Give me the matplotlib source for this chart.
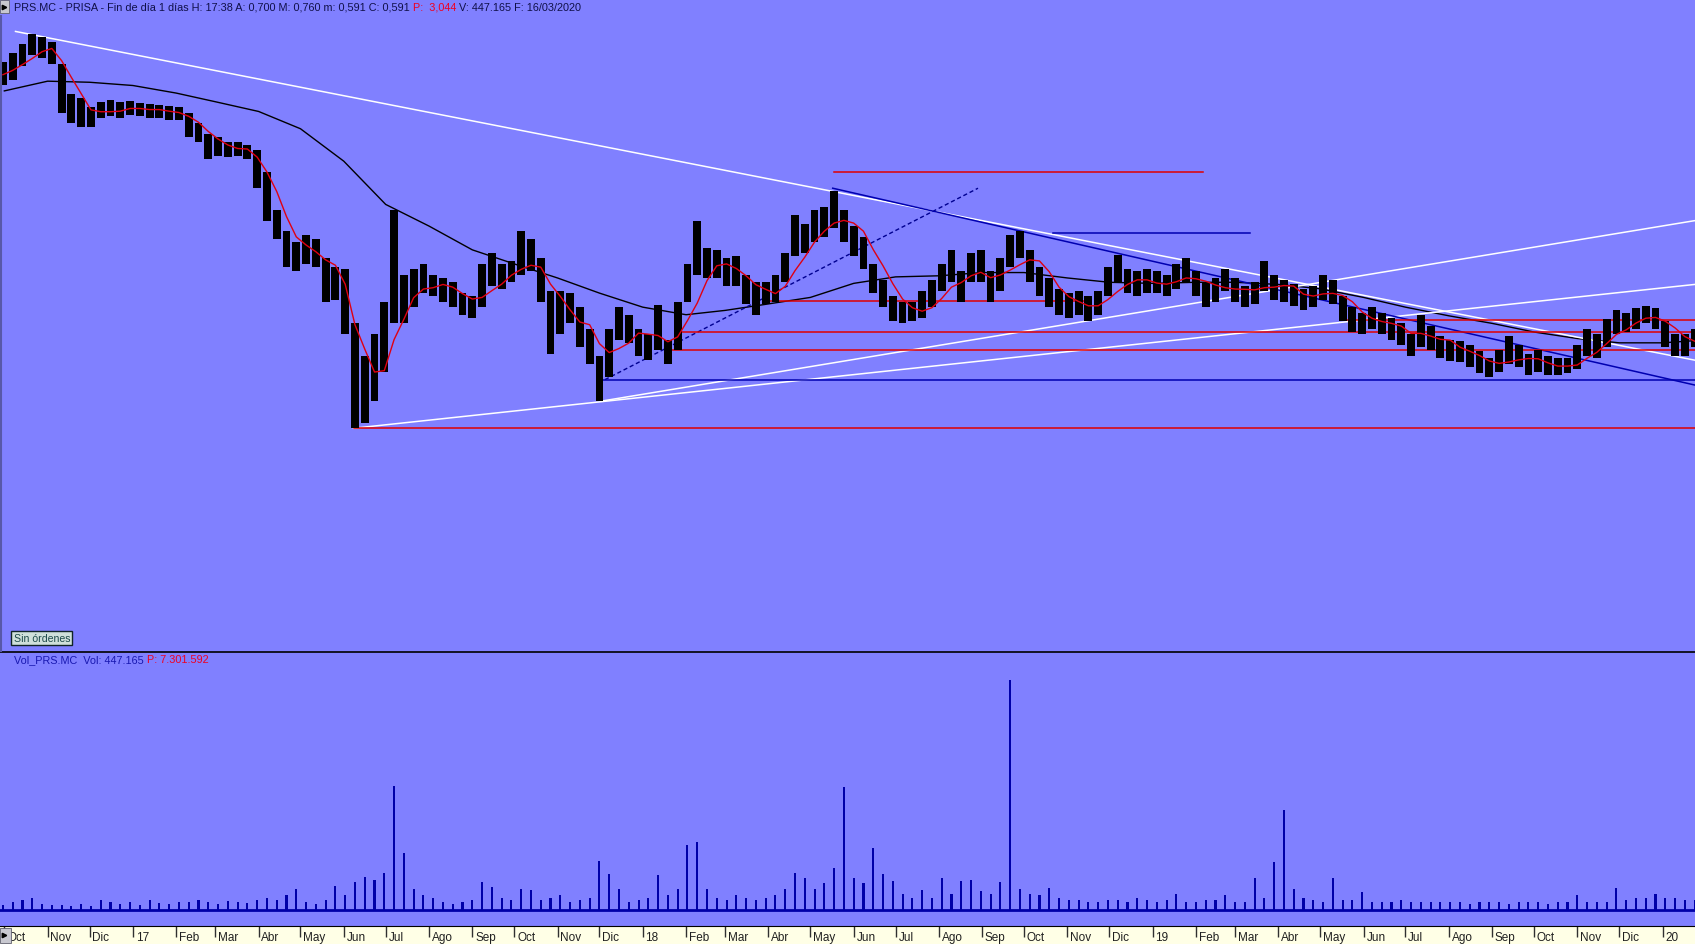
import matplotlib
matplotlib.use('Agg')
import matplotlib.pyplot as plt
import matplotlib.dates as mdates
from matplotlib.patches import Rectangle
from matplotlib.lines import Line2D
import pandas as pd
import numpy as np
from datetime import datetime

plt.rcParams['font.family'] = ['Liberation Sans', 'DejaVu Sans']

# ---------------- data (weekly) ----------------
week_start = '2016-09-30'
price_close = [5.33, 5.41, 5.53, 5.65, 5.58, 5.53, 5.08, 5.03, 4.98, 4.93,
               5.01, 5.03, 5.00, 5.03, 5.01, 4.99, 5.00, 4.97, 4.96, 4.85,
               4.78, 4.63, 4.68, 4.63, 4.65, 4.61, 4.38, 4.08, 3.93, 3.68,
               3.63, 3.78, 3.68, 3.38, 3.43, 3.08, 2.18, 2.48, 2.58, 3.13,
               3.33, 3.23, 3.38, 3.45, 3.38, 3.35, 3.28, 3.21, 3.18, 3.41,
               3.53, 3.45, 3.51, 3.63, 3.68, 3.38, 2.88, 3.18, 3.18, 2.93,
               2.78, 2.48, 2.85, 3.08, 2.98, 2.85, 2.81, 3.03, 2.75, 3.03,
               3.41, 3.68, 3.58, 3.58, 3.48, 3.51, 3.31, 3.25, 3.31, 3.35,
               3.58, 3.83, 3.81, 3.91, 3.98, 4.13, 3.91, 3.81, 3.68, 3.45,
               3.31, 3.15, 3.11, 3.13, 3.18, 3.28, 3.45, 3.55, 3.35, 3.53,
               3.58, 3.35, 3.45, 3.71, 3.78, 3.53, 3.41, 3.31, 3.21, 3.18,
               3.23, 3.15, 3.21, 3.41, 3.53, 3.41, 3.38, 3.41, 3.41, 3.37,
               3.47, 3.55, 3.38, 3.28, 3.33, 3.45, 3.33, 3.27, 3.31, 3.53,
               3.35, 3.33, 3.29, 3.23, 3.28, 3.41, 3.31, 3.15, 3.05, 3.03,
               3.08, 3.03, 2.98, 2.93, 2.81, 3.03, 2.88, 2.81, 2.78, 2.77,
               2.73, 2.65, 2.58, 2.68, 2.78, 2.73, 2.63, 2.67, 2.63, 2.61,
               2.63, 2.71, 2.88, 2.83, 2.95, 3.05, 3.05, 3.08, 3.13, 3.08,
               2.91, 2.83, 2.81, 2.91]
price_high = [5.45, 5.53, 5.61, 5.71, 5.68, 5.63, 5.43, 5.15, 5.11, 5.03,
              5.08, 5.10, 5.08, 5.09, 5.07, 5.06, 5.05, 5.04, 5.03, 4.98,
              4.88, 4.78, 4.75, 4.71, 4.71, 4.68, 4.63, 4.43, 4.08, 3.88,
              3.78, 3.85, 3.81, 3.63, 3.55, 3.53, 3.03, 2.73, 2.93, 3.23,
              4.08, 3.48, 3.53, 3.58, 3.48, 3.45, 3.41, 3.31, 3.28, 3.58,
              3.68, 3.58, 3.61, 3.88, 3.81, 3.63, 3.33, 3.33, 3.31, 3.18,
              2.98, 2.73, 2.98, 3.18, 3.11, 2.98, 2.93, 3.20, 2.88, 3.23,
              3.58, 3.98, 3.73, 3.71, 3.63, 3.65, 3.48, 3.41, 3.41, 3.48,
              3.68, 4.03, 3.95, 4.08, 4.11, 4.25, 4.08, 3.93, 3.83, 3.58,
              3.43, 3.28, 3.23, 3.23, 3.33, 3.43, 3.58, 3.71, 3.51, 3.68,
              3.71, 3.51, 3.63, 3.85, 3.88, 3.71, 3.55, 3.45, 3.35, 3.31,
              3.33, 3.28, 3.33, 3.55, 3.66, 3.53, 3.51, 3.53, 3.51, 3.48,
              3.58, 3.63, 3.51, 3.41, 3.45, 3.53, 3.45, 3.38, 3.41, 3.61,
              3.48, 3.43, 3.39, 3.35, 3.38, 3.48, 3.43, 3.28, 3.18, 3.13,
              3.18, 3.13, 3.08, 3.03, 2.93, 3.11, 3.01, 2.91, 2.88, 2.87,
              2.83, 2.77, 2.71, 2.78, 2.91, 2.83, 2.75, 2.78, 2.73, 2.71,
              2.71, 2.83, 2.98, 2.93, 3.07, 3.15, 3.13, 3.17, 3.19, 3.17,
              3.05, 2.93, 2.93, 2.98]
price_low = [5.23, 5.28, 5.41, 5.51, 5.48, 5.43, 4.98, 4.88, 4.85, 4.85,
             4.93, 4.95, 4.93, 4.96, 4.95, 4.93, 4.93, 4.91, 4.91, 4.75,
             4.71, 4.55, 4.58, 4.57, 4.58, 4.55, 4.28, 3.98, 3.81, 3.55,
             3.51, 3.58, 3.55, 3.23, 3.25, 2.93, 2.06, 2.11, 2.31, 2.58,
             3.03, 3.03, 3.18, 3.31, 3.28, 3.23, 3.18, 3.11, 3.08, 3.18,
             3.38, 3.35, 3.41, 3.48, 3.51, 3.23, 2.75, 2.93, 3.03, 2.81,
             2.65, 2.31, 2.53, 2.88, 2.85, 2.73, 2.69, 2.78, 2.65, 2.78,
             3.23, 3.48, 3.45, 3.45, 3.38, 3.38, 3.21, 3.11, 3.21, 3.23,
             3.41, 3.65, 3.68, 3.78, 3.83, 3.91, 3.78, 3.65, 3.53, 3.31,
             3.18, 3.05, 3.03, 3.05, 3.08, 3.18, 3.33, 3.41, 3.23, 3.41,
             3.41, 3.23, 3.33, 3.55, 3.63, 3.41, 3.28, 3.18, 3.11, 3.08,
             3.11, 3.05, 3.11, 3.28, 3.41, 3.31, 3.28, 3.31, 3.31, 3.28,
             3.35, 3.41, 3.28, 3.18, 3.23, 3.33, 3.23, 3.18, 3.21, 3.33,
             3.25, 3.23, 3.19, 3.15, 3.18, 3.25, 3.21, 3.05, 2.95, 2.93,
             2.98, 2.93, 2.88, 2.83, 2.73, 2.81, 2.78, 2.71, 2.68, 2.67,
             2.63, 2.57, 2.53, 2.58, 2.65, 2.63, 2.55, 2.58, 2.55, 2.55,
             2.57, 2.61, 2.73, 2.71, 2.81, 2.93, 2.95, 2.98, 3.03, 2.98,
             2.81, 2.73, 2.73, 2.81]
volume_m = [0.5, 0.8, 1.0, 1.2, 0.6, 0.5, 0.5, 0.4, 0.6, 0.4,
            1.0, 0.8, 0.6, 0.8, 0.5, 1.0, 0.7, 0.6, 0.8, 0.8,
            1.0, 0.8, 0.6, 0.9, 0.8, 0.7, 1.0, 1.2, 1.0, 1.4,
            2.0, 0.8, 0.6, 1.0, 2.3, 1.4, 2.6, 3.1, 2.8, 3.5,
            11.5, 5.3, 2.0, 1.4, 1.2, 0.8, 0.6, 0.8, 1.0, 2.6,
            2.2, 1.2, 1.0, 2.0, 1.9, 1.0, 1.2, 1.4, 0.8, 1.0,
            1.2, 4.6, 3.4, 2.0, 0.8, 1.0, 1.2, 3.3, 1.4, 2.0,
            6.1, 6.3, 2.0, 1.2, 1.0, 1.4, 1.2, 1.0, 1.2, 1.4,
            2.0, 3.5, 3.0, 2.0, 2.5, 3.9, 11.4, 3.0, 2.5, 5.8,
            3.4, 2.7, 1.5, 1.2, 1.9, 1.2, 3.0, 1.5, 2.7, 2.8,
            1.8, 1.5, 2.6, 21.3, 2.0, 1.5, 1.4, 2.1, 1.2, 1.0,
            1.0, 0.8, 0.8, 1.0, 1.0, 0.8, 1.2, 1.0, 0.8, 1.0,
            1.5, 0.8, 0.8, 1.0, 1.0, 1.4, 0.8, 0.8, 3.0, 1.2,
            4.5, 9.3, 2.0, 1.2, 1.0, 0.8, 3.0, 1.0, 1.0, 1.7,
            0.8, 0.8, 0.8, 1.0, 0.8, 0.8, 0.8, 0.8, 0.8, 0.8,
            0.6, 0.8, 0.8, 0.8, 0.6, 0.8, 0.8, 0.8, 0.6, 0.8,
            0.8, 1.4, 0.8, 0.8, 0.8, 2.1, 1.0, 1.2, 1.2, 1.5,
            1.2, 1.2, 1.0, 1.0]

# long moving average (black), read at month starts
ma_long_dates = ['2016-10-01', '2016-11-01', '2016-12-01',
                 '2017-01-01', '2017-02-01', '2017-03-01', '2017-04-01', '2017-05-01', '2017-06-01',
                 '2017-07-01', '2017-08-01', '2017-09-01', '2017-10-01', '2017-11-01', '2017-12-01',
                 '2018-01-01', '2018-02-01', '2018-03-01', '2018-04-01', '2018-05-01', '2018-06-01',
                 '2018-07-01', '2018-08-01', '2018-09-01', '2018-10-01', '2018-11-01', '2018-12-01',
                 '2019-01-01', '2019-02-01', '2019-03-01', '2019-04-01', '2019-05-01', '2019-06-01',
                 '2019-07-01', '2019-08-01', '2019-09-01', '2019-10-01', '2019-11-01', '2019-12-01',
                 '2020-01-01', '2020-01-24']
ma_long = [5.18, 5.27, 5.26, 5.23, 5.16, 5.08, 4.99, 4.83, 4.53, 4.13,
           3.93, 3.71, 3.58, 3.45, 3.31, 3.18, 3.11, 3.15, 3.21, 3.27,
           3.40, 3.46, 3.47, 3.50, 3.50, 3.45, 3.41, 3.40, 3.41, 3.41,
           3.39, 3.35, 3.27, 3.18, 3.10, 3.03, 2.95, 2.89, 2.85, 2.85, 2.87]

# drawn trend lines: (start date, start price, end date, end price, colour, style)
trend_lines = [
    ('2016-10-09', 5.73, '2020-01-24', 2.69, 'white', '-'),
    ('2017-06-08', 2.06, '2020-01-24', 3.39, 'white', '-'),
    ('2017-12-02', 2.31, '2020-01-24', 3.98, 'white', '-'),
    ('2017-12-05', 2.51, '2018-08-29', 4.28, '#000090', '--'),
    ('2018-05-17', 4.28, '2020-01-24', 2.46, '#0000B0', '-'),
    ('2018-10-22', 3.87, '2019-03-12', 3.87, '#0000B0', '-'),
    ('2017-12-02', 2.51, '2020-01-24', 2.51, '#0000B0', '-'),
    ('2018-05-18', 4.43, '2019-02-06', 4.43, '#E00000', '-'),
    ('2017-06-08', 2.06, '2020-01-24', 2.06, '#E00000', '-'),
    ('2018-04-02', 3.24, '2018-11-18', 3.24, '#E00000', '-'),
    ('2018-01-28', 2.95, '2020-01-24', 2.95, '#E00000', '-'),
    ('2018-01-21', 2.78, '2020-01-24', 2.78, '#E00000', '-'),
    ('2019-05-15', 3.06, '2020-01-24', 3.06, '#E00000', '-'),
]

month_labels = ['Oct', 'Nov', 'Dic', '17', 'Feb', 'Mar', 'Abr', 'May', 'Jun', 'Jul',
                'Ago', 'Sep', 'Oct', 'Nov', 'Dic', '18', 'Feb', 'Mar', 'Abr', 'May',
                'Jun', 'Jul', 'Ago', 'Sep', 'Oct', 'Nov', 'Dic', '19', 'Feb', 'Mar',
                'Abr', 'May', 'Jun', 'Jul', 'Ago', 'Sep', 'Oct', 'Nov', 'Dic', '20']

title_parts = [('PRS.MC - PRISA - Fin de día 1 días H: 17:38 A: 0,700 M: 0,760 m: 0,591 C: 0,591', '#101048'),
               (' P:  3,044', '#F00020'),
               (' V: 447.165 F: 16/03/2020', '#101048')]
vol_parts = [('Vol_PRS.MC  Vol: 447.165', '#1818B0'), (' P: 7.301.592', '#F00020')]

# ---------------- layout ----------------
W, H = 1568.0, 874.0


def fx(x):
    return x / W


def fy(y):
    return 1 - y / H


BG = '#8080FF'
PX_PER_DAY = 1.2923
d0 = mdates.date2num(datetime(2016, 10, 1))
xlim = (d0 - 4 / PX_PER_DAY, d0 + (W - 4) / PX_PER_DAY)

fig = plt.figure(figsize=(16.95, 9.45), dpi=100, facecolor=BG)

weeks = pd.date_range(week_start, periods=len(price_close), freq='W-FRI')
wx = mdates.date2num(weeks.to_pydatetime())
hi = np.array(price_high)
lo = np.array(price_low)
cl = pd.Series(price_close)
ma_short = cl.rolling(4, min_periods=1).mean()

# price panel
ax_p = fig.add_axes([0, fy(603), 1, (603 - 14) / H])
ax_p.set_facecolor(BG)
ax_p.set_xlim(*xlim)
ax_p.set_ylim(0, 5.89)
for s in ax_p.spines.values():
    s.set_visible(False)
ax_p.set_xticks([])
ax_p.set_yticks([])

ax_p.plot(mdates.date2num(pd.to_datetime(ma_long_dates).to_pydatetime()), ma_long,
          color='black', lw=1.0, zorder=2)
for (da, pa, db, pb, col, ls) in trend_lines:
    xa = mdates.date2num(pd.Timestamp(da).to_pydatetime())
    xb = mdates.date2num(pd.Timestamp(db).to_pydatetime())
    if ls == '--':
        ax_p.plot([xa, xb], [pa, pb], color=col, lw=1.0, ls='--', dashes=(3, 2), zorder=3)
    else:
        ax_p.plot([xa, xb], [pa, pb], color=col, lw=1.1, zorder=3)
ax_p.bar(wx, hi - lo, bottom=lo, width=5.6, color='black', linewidth=0, zorder=4)
ax_p.plot(wx, ma_short, color='#E00010', lw=1.0, zorder=5)

# volume panel
ax_v = fig.add_axes([0, fy(857), 1, (857 - 604) / H])
ax_v.set_facecolor(BG)
ax_v.set_xlim(*xlim)
ax_v.set_ylim(-1.4, 23.9)
for k, s in ax_v.spines.items():
    s.set_visible(k == 'top')
ax_v.spines['top'].set_color('black')
ax_v.spines['top'].set_linewidth(1.2)
ax_v.set_xticks([])
ax_v.set_yticks([])
ax_v.bar(wx, volume_m, width=1.5, color='#0000A8', linewidth=0, zorder=3)
ax_v.axhline(0, color='#0000A8', lw=2.0, zorder=2)

# date strip
ax_x = fig.add_axes([0, 0, 1, 17 / H])
ax_x.set_facecolor('#FFFFE6')
ax_x.set_xlim(*xlim)
ax_x.set_ylim(0, 1)
for k, s in ax_x.spines.items():
    s.set_visible(k == 'top')
ax_x.spines['top'].set_color('black')
ax_x.set_yticks([])
month_dates = pd.date_range('2016-10-01', periods=len(month_labels), freq='MS')
mx = mdates.date2num(month_dates.to_pydatetime())
ax_x.set_xticks(mx)
ax_x.tick_params(axis='x', which='both', top=True, bottom=False, direction='in',
                 length=8, width=1, color='#303030', labelbottom=False, labeltop=False)
for x, lab in zip(mx, month_labels):
    ax_x.text(x + 2.0, 0.36, lab, fontsize=8.5, color='#202020', ha='left', va='center')

# small arrow boxes at the left edge
for (yt, yb, wbox) in [(1, 13, 8.5), (859, 873, 10.5)]:
    fig.add_artist(Rectangle((0, fy(yb)), fx(wbox), (yb - yt) / H, transform=fig.transFigure,
                             facecolor='#C8C8D0', edgecolor='#606070', lw=0.6, zorder=10))
    fig.add_artist(Line2D([fx(4)], [fy((yt + yb) / 2)], marker='>', markersize=3.2,
                          color='black', transform=fig.transFigure, zorder=11))

# left border
fig.add_artist(Line2D([fx(0.6), fx(0.6)], [fy(603), fy(16)], color='#5858A8', lw=1.5,
                      transform=fig.transFigure))

# multi-colour header texts
renderer = fig.canvas.get_renderer()


def multi_text(x, y, parts, size):
    for s, c in parts:
        t = fig.text(x, y, s, color=c, fontsize=size, ha='left', va='center')
        bb = t.get_window_extent(renderer)
        x += bb.width / fig.bbox.width


multi_text(fx(13), fy(7), title_parts, 7.85)
multi_text(fx(13), fy(610.5), vol_parts, 7.85)

fig.text(fx(12.5), fy(591), 'Sin órdenes', fontsize=7.6, color='#1E4A4A', ha='left', va='center',
         bbox=dict(boxstyle='square,pad=0.22', fc='#CFE0DA', ec='#102428', lw=1.0))

fig.savefig('out.png', dpi=100, facecolor=BG)
